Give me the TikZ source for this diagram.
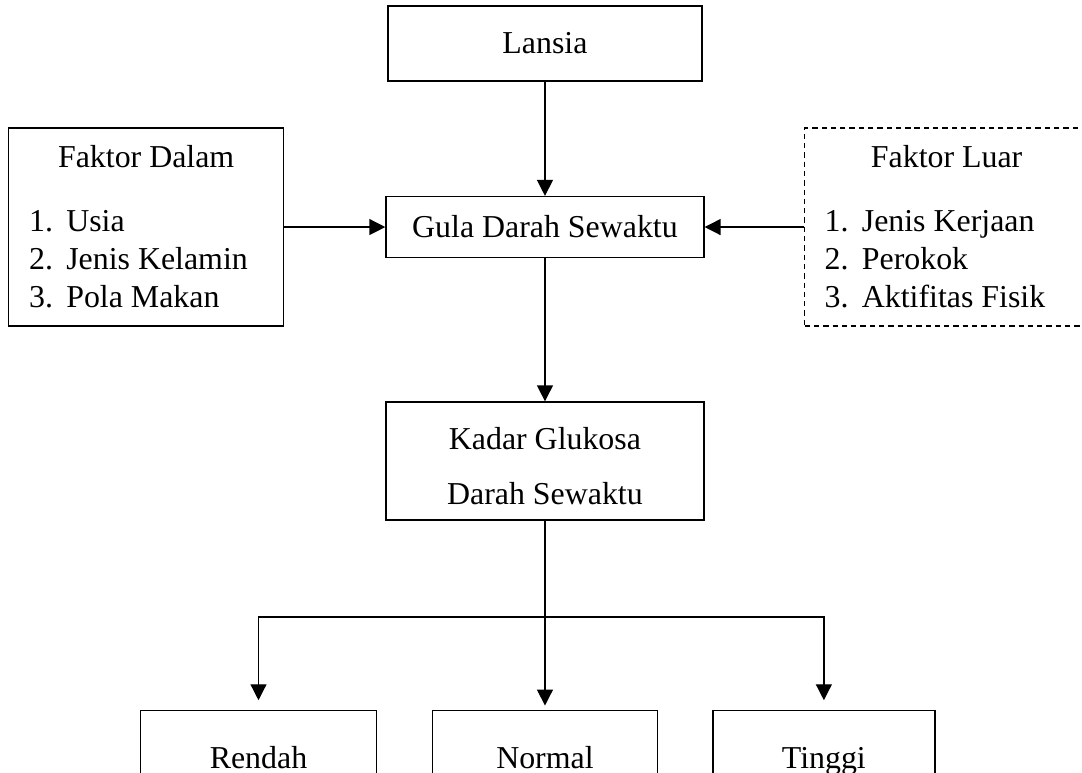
\documentclass[tikz,border=0pt]{standalone}
\usepackage{fontspec}
\setmainfont{Liberation Serif}
\usetikzlibrary{arrows.meta, positioning}

\tikzset{
    box/.style={draw, line width=0.5pt, inner sep=0pt, align=center,
        font=\fontsize{12pt}{14.3pt}\selectfont},
    leaf/.style={box, text height=11.2pt, text depth=2.6pt},
    faktorbox/.style={draw, line width=0.5pt, inner xsep=7.5pt, inner ysep=0pt, align=left,
        font=\fontsize{12pt}{14.3pt}\selectfont},
    arr/.style={line width=0.5pt, -{Triangle[length=6pt, width=6pt]}}
}
\newcommand{\itm}[2]{\makebox[14pt][l]{#1}#2}

\begin{document}
\begin{tikzpicture}

    % page frame
    \useasboundingbox (0,0) rectangle (14.315,10.214);

    % top box
    \node[box, minimum width=4.154cm, minimum height=0.992cm] (lansia) at (7.21,9.64) {Lansia};

    % middle row
    \node[box, minimum width=4.207cm, minimum height=0.807cm] (gula) at (7.21,7.21) {Gula Darah Sewaktu};
    \node[faktorbox, minimum width=3.638cm, minimum height=2.62cm, anchor=west] (dalam) at (0.106,7.21)
        {\makebox[88.1pt][c]{Faktor Dalam}\\[9.8pt]
         \itm{1.}{Usia}\\
         \itm{2.}{Jenis Kelamin}\\
         \itm{3.}{Pola Makan}};
    \node[faktorbox, dashed, dash pattern=on 2pt off 1.5pt, minimum width=3.757cm, minimum height=2.62cm, anchor=west] (luar) at (10.637,7.21)
        {\makebox[91.8pt][c]{Faktor Luar}\\[9.8pt]
         \itm{1.}{Jenis Kerjaan}\\
         \itm{2.}{Perokok}\\
         \itm{3.}{Aktifitas Fisik}};

    % result box
    \node[box, minimum width=4.207cm, minimum height=1.561cm] (kadar) at (7.21,4.115) {\rule{0pt}{12.5pt}Kadar Glukosa\\[6.4pt]Darah Sewaktu};

    % bottom row (cut by the page edge)
    \node[leaf, minimum width=3.122cm, minimum height=1.24cm] (rendah) at (3.42,0.198) {Rendah};
    \node[leaf, minimum width=2.977cm, minimum height=1.24cm] (normal) at (7.21,0.198) {Normal};
    \node[leaf, minimum width=2.937cm, minimum height=1.24cm] (tinggi) at (10.90,0.198) {Tinggi};

    % branch point
    \coordinate (branch) at (7.21,2.051);

    % arrows
    \draw[arr] (lansia) -- (gula);
    \draw[arr] (dalam) -- (gula);
    \draw[arr] (luar) -- (gula);
    \draw[arr] (gula) -- (kadar);
    \draw[line width=0.5pt] (kadar) -- (branch);
    \draw[arr, shorten >=1.5pt] (branch) -- (normal);
    \draw[arr, shorten >=3.5pt] (branch) -| (rendah);
    \draw[arr, shorten >=3.5pt] (branch) -| (tinggi);

\end{tikzpicture}
\end{document}
